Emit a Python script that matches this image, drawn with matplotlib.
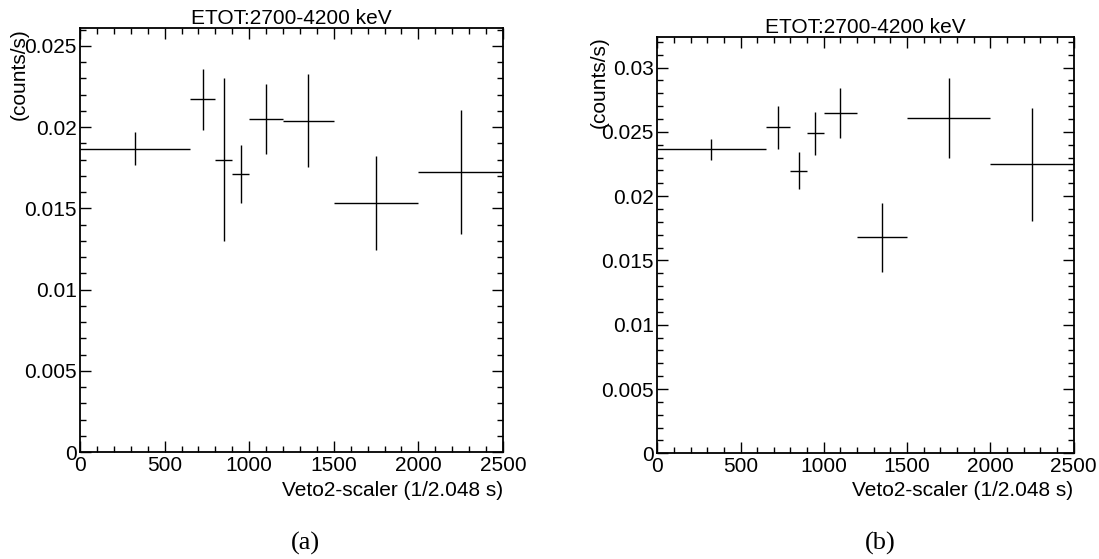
import numpy as np
import matplotlib
matplotlib.use("Agg")
import matplotlib.pyplot as plt
from matplotlib.ticker import MultipleLocator, FuncFormatter

# bin edges of the Veto2 scaler (same for both panels)
bin_lo = [0, 650, 800, 900, 1000, 1200, 1500, 2000]
bin_hi = [650, 800, 900, 1000, 1200, 1500, 2000, 2500]

# panel (a)
rate_a = [0.01866, 0.0217, 0.0180, 0.0171, 0.0205, 0.0204, 0.01535, 0.01724]
err_a = [0.00102, 0.00185, 0.0050, 0.0018, 0.00214, 0.00285, 0.0029, 0.0038]

# panel (b)
rate_b = [0.02366, 0.02535, 0.02198, 0.02488, 0.02649, 0.0168, 0.02605, 0.02247]
err_b = [0.00082, 0.00169, 0.00145, 0.00166, 0.00193, 0.0027, 0.0031, 0.0044]

title = "ETOT:2700-4200 keV"
xlabel = "Veto2-scaler (1/2.048 s)"
ylabel = "(counts/s)"

plt.rcParams['font.family'] = ['Liberation Sans', 'DejaVu Sans']
fs = 15

W, H = 1099, 559
fig = plt.figure(figsize=(W / 100, H / 100), dpi=100)


def px_axes(x0, y0, x1, y1):
    return fig.add_axes([x0 / W, 1 - y1 / H, (x1 - x0) / W, (y1 - y0) / H])


def draw_panel(ax, rate, err, ytop, label_x, cap, cap_x):
    lo = np.array(bin_lo)
    hi = np.array(bin_hi)
    centers = (lo + hi) / 2
    half = (hi - lo) / 2
    ax.errorbar(centers, rate, xerr=half, yerr=err, fmt='none',
                ecolor='black', elinewidth=1.0, capsize=0, clip_on=False)
    ax.set_xlim(0, 2500)
    ax.set_ylim(0, ytop)
    ax.xaxis.set_major_locator(MultipleLocator(500))
    ax.xaxis.set_minor_locator(MultipleLocator(100))
    ax.yaxis.set_major_locator(MultipleLocator(0.005))
    ax.yaxis.set_minor_locator(MultipleLocator(0.001))
    ax.yaxis.set_major_formatter(FuncFormatter(lambda v, p: f"{v:g}"))
    ax.tick_params(which='both', direction='in', top=True, right=True,
                   labelsize=fs, width=1.0)
    ax.tick_params(which='major', length=8)
    ax.tick_params(which='minor', length=4.3)
    ax.tick_params(axis='y', pad=2.5)
    ax.tick_params(axis='x', pad=3)
    for s in ax.spines.values():
        s.set_linewidth(1.3)
    ax.set_title(title, fontsize=fs, pad=3)
    bb = ax.get_position()
    fig.text(bb.x1, 1 - 491 / H, xlabel, ha='right', va='center', fontsize=fs)
    fig.text(label_x / W, bb.y1, ylabel, rotation=90, ha='center', va='top',
             fontsize=fs)
    fig.text(cap_x / W, 1 - 543 / H, cap, ha='center', va='center',
             fontsize=19, family=['Liberation Serif', 'DejaVu Serif'])


ax1 = px_axes(80, 28, 503, 452)
draw_panel(ax1, rate_a, err_a, 0.0261, 19, "(a)", 305)

ax2 = px_axes(657.3, 36.7, 1073.5, 453.3)
draw_panel(ax2, rate_b, err_b, 0.0324, 599, "(b)", 880)

fig.savefig("out.png", dpi=100)
